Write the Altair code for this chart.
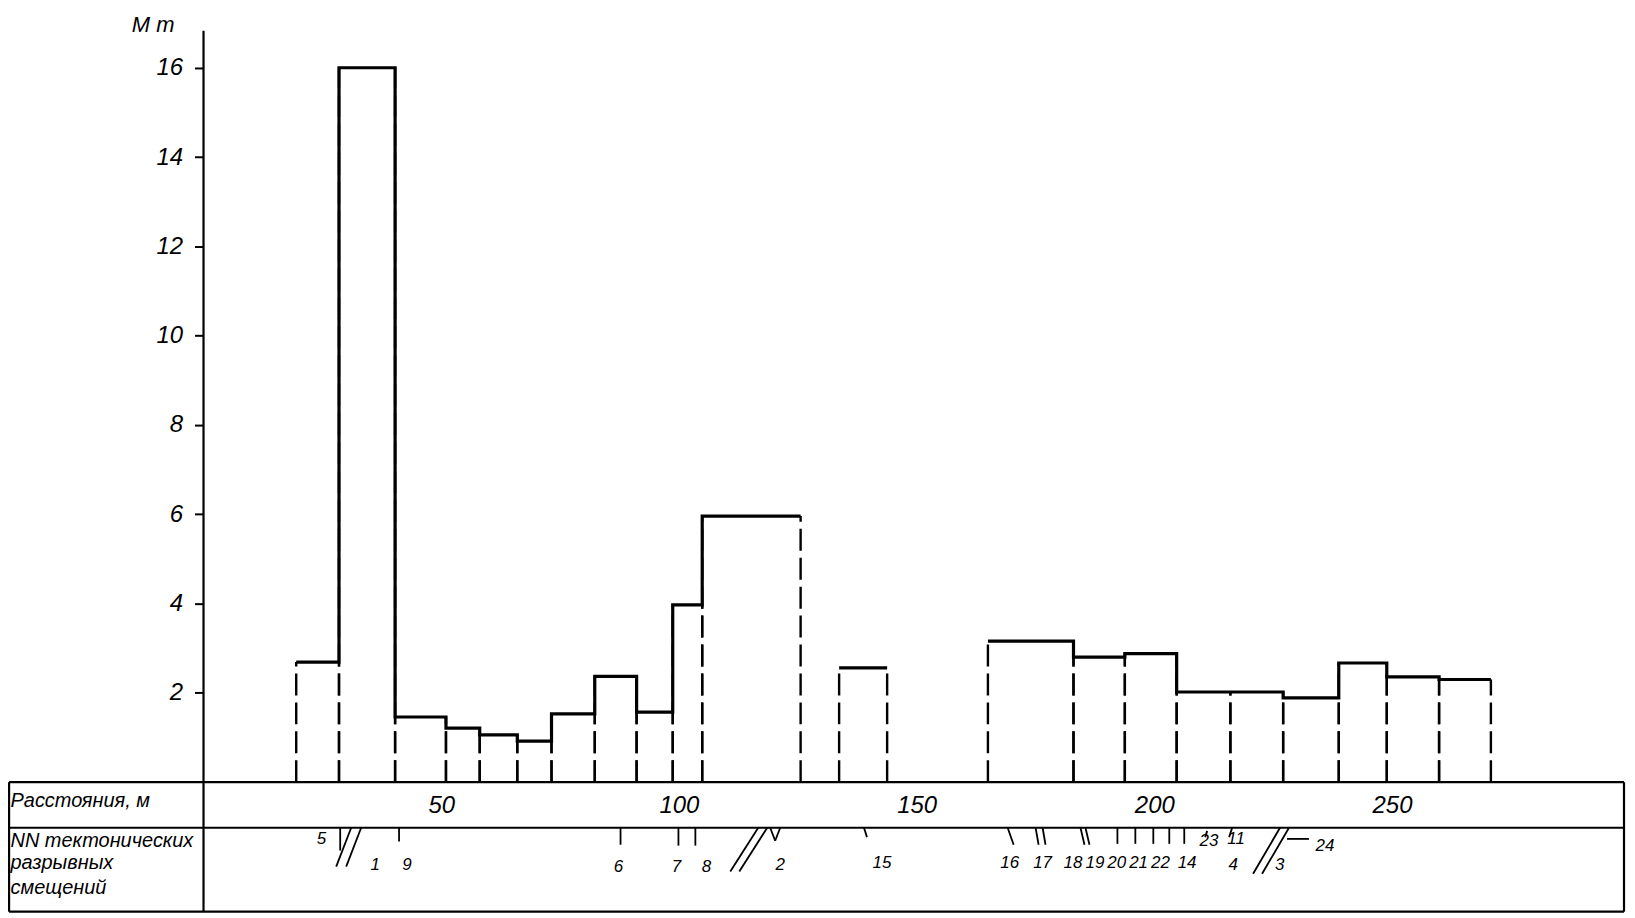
import altair as alt
import pandas as pd

FONT = "Liberation Sans Narrow, Liberation Sans, DejaVu Sans"

# ---------------- data ----------------
# histogram intervals along the profile (m) and their values (М т)
bar_start = [19.5, 28.5, 40.3, 51.0, 58.1, 66.0, 73.2, 82.3, 91.1, 98.7, 104.9,
             133.7, 165.0, 183.0, 193.8, 204.7, 216.0, 227.1, 238.8, 248.9, 259.9]
bar_end = [28.5, 40.3, 51.0, 58.1, 66.0, 73.2, 82.3, 91.1, 98.7, 104.9, 125.6,
           143.8, 183.0, 193.8, 204.7, 216.0, 227.1, 238.8, 248.9, 259.9, 270.8]
bar_value = [2.69, 16.0, 1.46, 1.21, 1.06, 0.92, 1.53, 2.37, 1.57, 3.97, 5.96,
             2.56, 3.16, 2.80, 2.88, 2.02, 2.02, 1.89, 2.67, 2.36, 2.30]

y_tick_values = [2, 4, 6, 8, 10, 12, 14, 16]
x_tick_values = [50, 100, 150, 200, 250]

row_titles = ["Расстояния, м", "NN тектонических", "разрывных", "смещений"]

# numbers of tectonic faults and where they are written (m along the profile)
fault_labels = ["5", "1", "9", "6", "7", "8", "2", "15", "16", "17", "18", "19",
                "20", "21", "22", "14", "23", "11", "4", "3", "24"]
fault_label_at = [24.8, 36.1, 42.8, 87.3, 99.5, 105.8, 121.3, 142.7, 169.6, 176.5,
                  182.9, 187.5, 192.1, 196.7, 201.3, 206.9, 211.5, 217.2, 216.6,
                  226.4, 235.9]

# fault strokes in the lower table row: start / end along the profile (m)
stroke_from = [28.75, 31.06, 33.16, 41.13, 87.72, 99.90, 103.46, 116.68, 118.57,
               119.20, 121.30, 138.93, 169.15, 175.03, 176.50, 184.47, 185.52,
               192.24, 196.01, 199.79, 203.15, 206.30, 211.12, 216.37, 226.44,
               228.33, 227.91]
stroke_to = [28.75, 27.91, 30.01, 41.13, 87.72, 99.90, 103.46, 110.81, 112.70,
             120.25, 120.25, 139.56, 170.41, 175.66, 177.12, 185.31, 186.36,
             192.24, 196.01, 199.79, 203.15, 206.30, 210.70, 215.74, 220.78,
             222.67, 232.53]

# ---------------- layout (table frame, depths inside the table) ----------------
X_MAX = 298.8          # right border of the table (m)
X_LEFT = -40.9         # left border of the table (m)
ROW_DIV = -1.02        # line between the two table rows (in y units)
TABLE_BOTTOM = -2.90
Y_AXIS_TOP = 16.83

label_level = [-1.27, -1.85, -1.85, -1.89, -1.91, -1.91, -1.85, -1.80, -1.80, -1.80,
               -1.80, -1.80, -1.80, -1.80, -1.80, -1.80, -1.31, -1.27, -1.85, -1.85,
               -1.44]
stroke_top = [ROW_DIV] * 22 + [-1.09, ROW_DIV, ROW_DIV, ROW_DIV, -1.27]
stroke_bottom = [-1.53, -1.89, -1.89, -1.33, -1.40, -1.42, -1.42, -2.00, -2.00,
                 -1.31, -1.31, -1.23, -1.40, -1.40, -1.40, -1.40, -1.40, -1.38,
                 -1.38, -1.38, -1.38, -1.38, -1.23, -1.23, -2.05, -2.05, -1.27]
row_title_level = [-0.43, -1.31, -1.80, -2.36]

# ---------------- derived tables ----------------
n = len(bar_value)
edges = []
for s, e, v in zip(bar_start, bar_end, bar_value):
    edges.append({"pos": s, "base": 0.0, "top": v})
    edges.append({"pos": e, "base": 0.0, "top": v})
edges = pd.DataFrame(edges)

steps = []
grp = 0
for i in range(n):
    steps.append({"pos": bar_start[i], "h": bar_value[i], "grp": grp})
    if i == n - 1 or abs(bar_end[i] - bar_start[i + 1]) > 1e-6:
        steps.append({"pos": bar_end[i], "h": bar_value[i], "grp": grp})
        grp += 1
steps = pd.DataFrame(steps)

frame = pd.DataFrame([
    {"x": X_LEFT, "x2": X_MAX, "y": 0.0, "y2": 0.0},
    {"x": X_LEFT, "x2": X_MAX, "y": ROW_DIV, "y2": ROW_DIV},
    {"x": X_LEFT, "x2": X_MAX, "y": TABLE_BOTTOM, "y2": TABLE_BOTTOM},
    {"x": X_LEFT, "x2": X_LEFT, "y": 0.0, "y2": TABLE_BOTTOM},
    {"x": X_MAX, "x2": X_MAX, "y": 0.0, "y2": TABLE_BOTTOM},
    {"x": 0.0, "x2": 0.0, "y": TABLE_BOTTOM, "y2": Y_AXIS_TOP},
])

strokes = pd.DataFrame({"x": stroke_from, "x2": stroke_to,
                        "y": stroke_top, "y2": stroke_bottom})
row_df = pd.DataFrame({"t": row_titles, "x": [X_LEFT + 0.3] * 4, "y": row_title_level})
lab_df = pd.DataFrame({"t": fault_labels, "x": fault_label_at, "y": label_level})

xs = alt.Scale(domain=[0, X_MAX], nice=False, zero=False)
ys = alt.Scale(domain=[0, 17], nice=False, zero=False)

x_axis = alt.Axis(values=x_tick_values, title=None, domain=False, grid=False,
                  ticks=False, tickSize=0, labelPadding=23, labelBaseline="middle",
                  labelFontSize=24, labelFont=FONT, labelFontStyle="italic",
                  labelColor="black", labelFlush=False, labelAngle=0)
y_axis = alt.Axis(values=y_tick_values, title="М т", titleAngle=0, titleX=-51,
                  titleY=1, titleAlign="center", titleBaseline="middle",
                  titleFontSize=22, titleFontWeight="normal", titleFontStyle="italic",
                  titleFont=FONT, titleColor="black", domain=False, grid=False,
                  ticks=True, tickSize=9, tickWidth=2, tickColor="black",
                  labelPadding=12, labelFontSize=24, labelFont=FONT,
                  labelFontStyle="italic", labelColor="black", labelFlush=False)

dashed = alt.Chart(edges).mark_rule(color="black", strokeWidth=2.4,
                                    strokeDash=[22, 7]).encode(
    x=alt.X("pos:Q", scale=xs, axis=x_axis),
    y=alt.Y("base:Q", scale=ys, axis=y_axis),
    y2="top:Q",
)

tops = alt.Chart(steps).mark_line(color="black", strokeWidth=3.2,
                                  interpolate="step-after").encode(
    x="pos:Q", y="h:Q", detail="grp:N")

frame_layer = alt.Chart(frame).mark_rule(color="black", strokeWidth=2.2).encode(
    x="x:Q", x2="x2:Q", y="y:Q", y2="y2:Q")

stroke_layer = alt.Chart(strokes).mark_rule(color="black", strokeWidth=1.8).encode(
    x="x:Q", x2="x2:Q", y="y:Q", y2="y2:Q")

row_text = alt.Chart(row_df).mark_text(align="left", baseline="middle", fontSize=20,
                                       font=FONT, fontStyle="italic",
                                       color="black").encode(
    x="x:Q", y="y:Q", text="t:N")

fault_text = alt.Chart(lab_df).mark_text(align="center", baseline="middle",
                                         fontSize=17, font=FONT, fontStyle="italic",
                                         color="black").encode(
    x="x:Q", y="y:Q", text="t:N")

chart = alt.layer(dashed, tops, frame_layer, stroke_layer, row_text, fault_text).properties(
    width=1424, height=761,
    autosize=alt.AutoSizeParams(type="none"),
    padding={"left": 196, "top": 14, "right": 3, "bottom": 132},
    background="white",
).configure_view(stroke=None)

chart.save("out.html", embed_options={"renderer": "svg", "actions": False})
